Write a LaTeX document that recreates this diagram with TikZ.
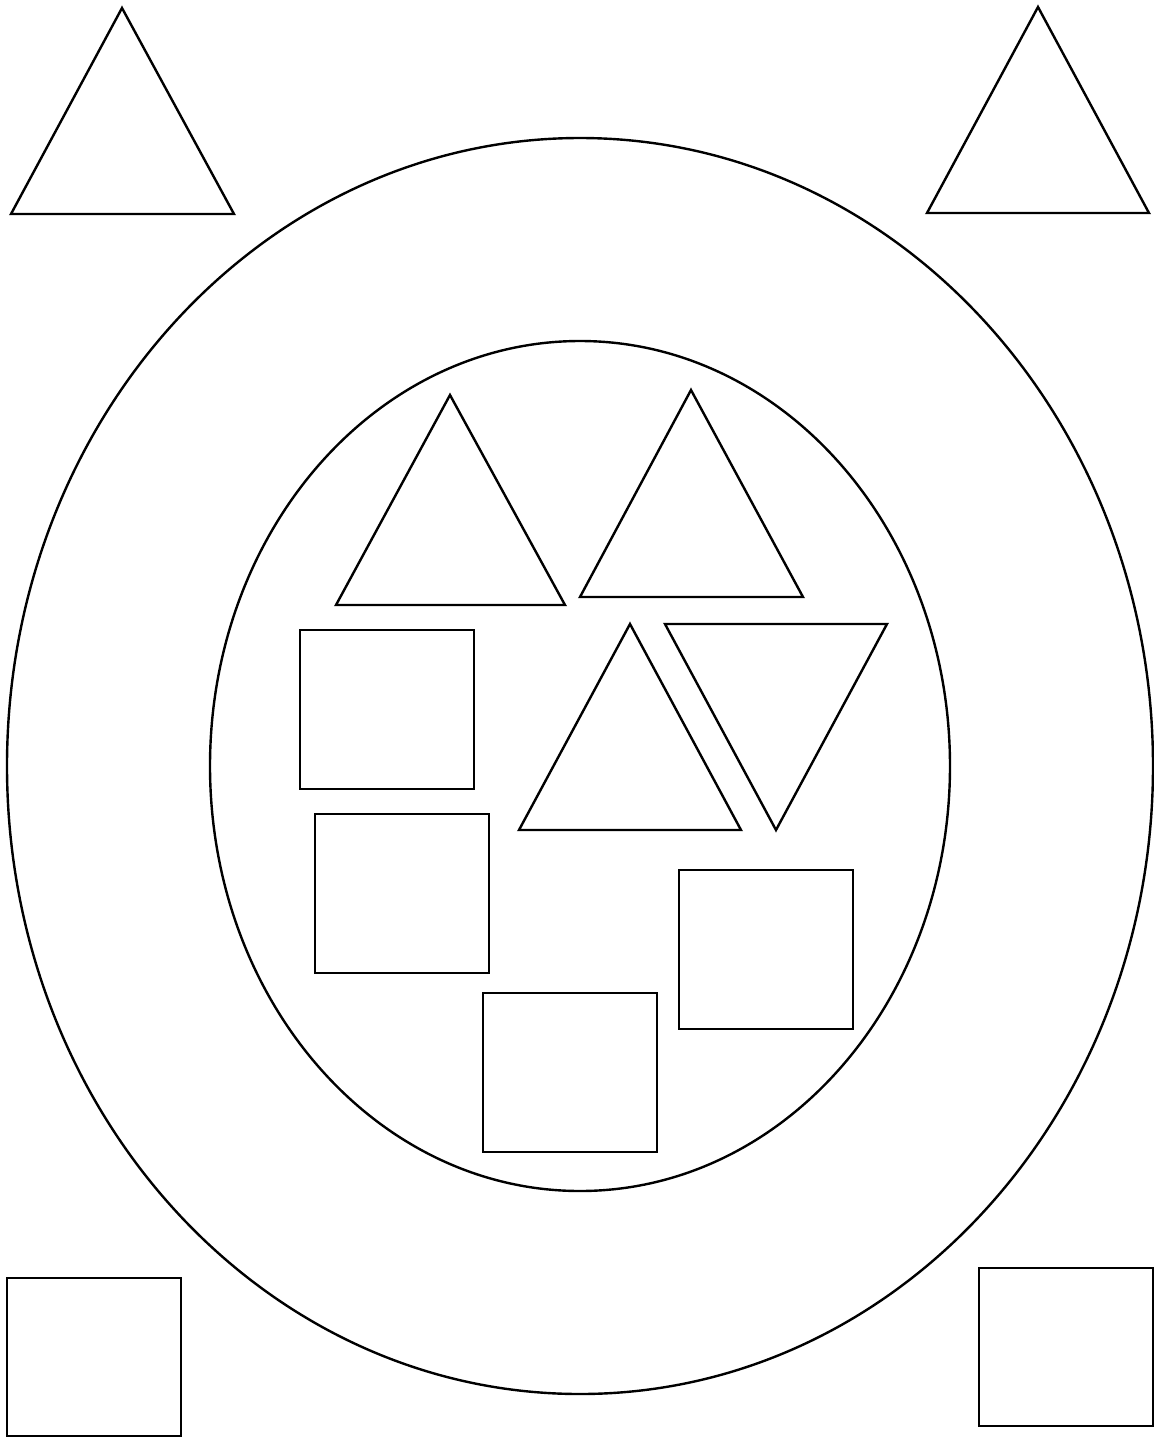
\documentclass[tikz,border=0pt]{standalone}
\begin{document}
\begin{tikzpicture}[x=0.5pt,y=-0.5pt,line join=miter,line width=1.2pt,scale=1]
					\useasboundingbox (0,0) rectangle (1154,1437);
					\draw (580,766) ellipse [x radius=573,y radius=628];
					\draw (580,766) ellipse [x radius=370,y radius=425];
					\draw (122,8) -- (11,214) -- (234,214) -- cycle;
					\draw (1038,7) -- (927,213) -- (1149,213) -- cycle;
					\draw (450,395) -- (336,605) -- (565,605) -- cycle;
					\draw (691,390) -- (580,597) -- (803,597) -- cycle;
					\draw (630,624) -- (519,830) -- (741,830) -- cycle;
					\draw (665,624) -- (887,624) -- (776,830) -- cycle;
					\draw (300,630) rectangle (474,789);
					\draw (315,814) rectangle (489,973);
					\draw (679,870) rectangle (853,1029);
					\draw (483,993) rectangle (657,1152);
					\draw (7,1278) rectangle (181,1436);
					\draw (979,1268) rectangle (1153,1426);
				\end{tikzpicture}
\end{document}
